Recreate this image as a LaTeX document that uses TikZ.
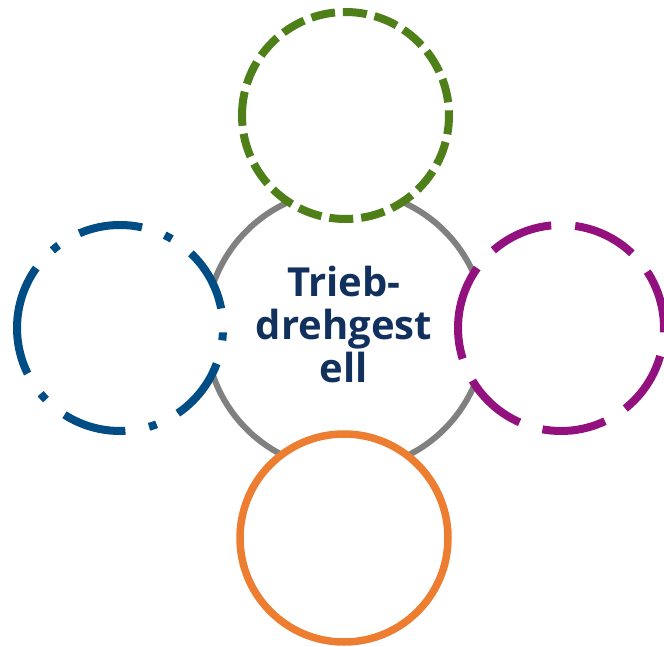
\documentclass[tikz,border=0pt]{standalone}
\usepackage{fontspec}
\setmainfont{Open Sans}
\definecolor{ringgray}{RGB}{128,128,128}
\definecolor{leafgreen}{RGB}{78,127,24}
\definecolor{deepblue}{RGB}{0,76,133}
\definecolor{plum}{RGB}{146,17,126}
\definecolor{tangerine}{RGB}{237,125,49}
\definecolor{navytext}{RGB}{17,48,94}
\tikzset{
  hub/.style={circle, draw=ringgray, line width=6pt, inner sep=0pt, minimum size=280pt},
  satellite/.style={circle, fill=white, inner sep=0pt, minimum size=#1},
  ringline/.style={line width=8pt, line cap=butt},
  hubtext/.style={font=\fontsize{40}{43}\selectfont\bfseries, text=navytext, align=center, inner sep=0pt}
}
\begin{document}
\begin{tikzpicture}[x=1pt,y=1pt]
\useasboundingbox (0,0) rectangle (664,646);
\clip (0,0) rectangle (664,646);
% central ring
\node[hub] (c) at (345.5,316) {};
% satellites (white filled, covering the hub ring)
\node[satellite=207pt] (g) at (345.5,530.5) {};
\node[satellite=206pt] (b) at (120,318) {};
\node[satellite=206pt] (p) at (561,318) {};
\node[satellite=208pt] (o) at (344,108) {};
% green: short dashes
\draw[ringline, draw=leafgreen, dash pattern=on 24pt off 8pt]
  ([xshift=-103.5pt]g.center) arc[start angle=180, end angle=-180, radius=103.5pt];
% blue: long dash dot
\draw[ringline, draw=deepblue, dash pattern=on 64pt off 24pt on 8pt off 24pt]
  ([xshift=-103pt]b.center) arc[start angle=180, end angle=-180, radius=103pt];
% purple: long dashes
\draw[ringline, draw=plum, dash pattern=on 64pt off 24pt]
  ([xshift=-103pt]p.center) arc[start angle=180, end angle=-180, radius=103pt];
% orange: solid
\draw[line width=7.5pt, draw=tangerine] (o.center) circle[radius=104pt];
% label
\node[hubtext] (t) at (344,321) {Trieb-\\drehgest\\ell};
\end{tikzpicture}
\end{document}
